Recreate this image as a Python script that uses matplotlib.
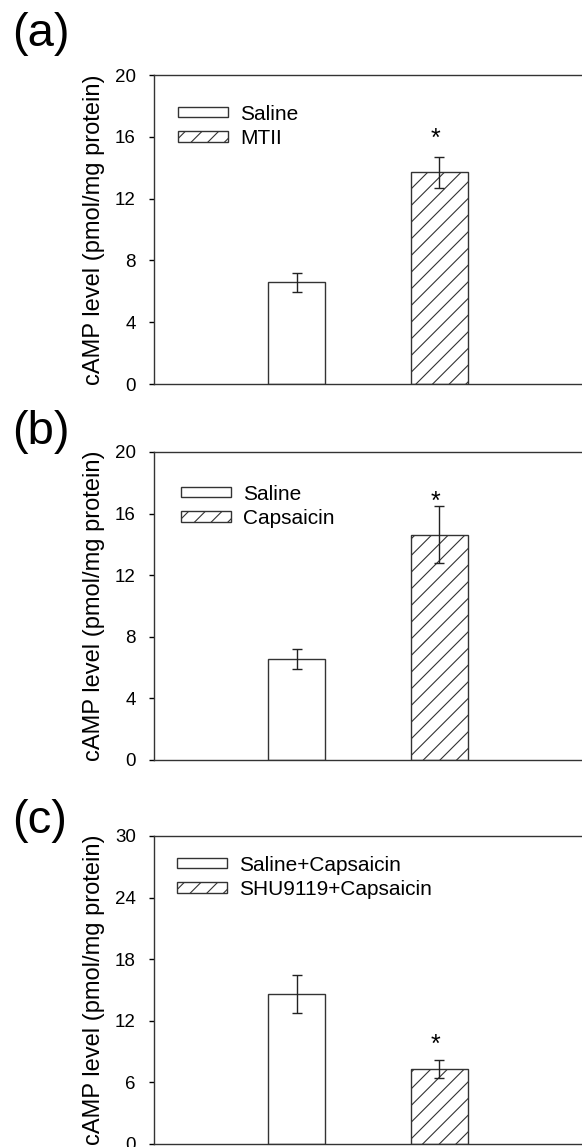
import matplotlib
matplotlib.use("Agg")
import matplotlib.pyplot as plt

plt.rcParams["font.family"] = ["Liberation Sans", "DejaVu Sans"]
plt.rcParams["hatch.linewidth"] = 0.8
plt.rcParams["hatch.color"] = "#333333"

# panel data: labels, means, errors
labels_a = ["Saline", "MTII"]
means_a = [6.58, 13.7]
errs_a = [0.63, 1.02]

labels_b = ["Saline", "Capsaicin"]
means_b = [6.58, 14.63]
errs_b = [0.64, 1.86]

labels_c = ["Saline+Capsaicin", "SHU9119+Capsaicin"]
means_c = [14.6, 7.3]
errs_c = [1.85, 0.91]

# which bar gets the asterisk and where it sits
star_index = [1, 1, 1]
star_y = [16.3, 17.2, 10.35]

ymax = [20, 20, 30]
yticks = [[0, 4, 8, 12, 16, 20], [0, 4, 8, 12, 16, 20], [0, 6, 12, 18, 24, 30]]
panel_names = ["(a)", "(b)", "(c)"]

W, H = 582, 1147
fig = plt.figure(figsize=(W / 100, H / 100), dpi=100)

# axes boxes in pixels: top, bottom
boxes = [(75, 384), (452, 760), (836, 1144)]
label_y = [34, 432, 821]
legend_xy = [(0.056, 0.904), (0.063, 0.894), (0.054, 0.936)]
left_px = 154
right_px = 582

panels = [(labels_a, means_a, errs_a), (labels_b, means_b, errs_b), (labels_c, means_c, errs_c)]

for i, (labels, means, errs) in enumerate(panels):
    top, bot = boxes[i]
    ax = fig.add_axes([left_px / W, 1 - bot / H, (right_px - left_px) / W, (bot - top) / H])
    x = [1, 2]
    hatches = ["", "//"]
    for j in range(2):
        ax.bar(x[j], means[j], width=0.404, color="white", edgecolor="#333333",
               linewidth=1.0, hatch=hatches[j], label=labels[j], zorder=2)
        ax.errorbar(x[j], means[j], yerr=errs[j], fmt="none", ecolor="#222222",
                    elinewidth=1.0, capsize=3.6, capthick=1.0, zorder=3)
    k = star_index[i]
    ax.annotate("*", (x[k], star_y[i]), xytext=(-2.5, -10), textcoords="offset points",
                ha="center", va="baseline", fontsize=18)

    ax.set_xlim(0, 3.0)
    ax.set_ylim(0, ymax[i])
    ax.set_yticks(yticks[i])
    ax.set_xticks([])
    ax.tick_params(axis="y", direction="out", length=3.5, width=1, labelsize=13.5, pad=9.5)
    ax.spines["right"].set_visible(False)
    for s in ["left", "top", "bottom"]:
        ax.spines[s].set_linewidth(1.0)
        ax.spines[s].set_color("#333333")
    ax.set_ylabel("cAMP level (pmol/mg protein)", fontsize=17, labelpad=7)
    ax.legend(loc="upper left", bbox_to_anchor=legend_xy[i], frameon=False,
              fontsize=15, handlelength=2.4, handleheight=0.38, handletextpad=0.58,
              labelspacing=0.25, borderaxespad=0, borderpad=0)

    fig.text(12 / W, 1 - label_y[i] / H, panel_names[i], fontsize=34, ha="left", va="center")

fig.savefig("out.png", dpi=100)
